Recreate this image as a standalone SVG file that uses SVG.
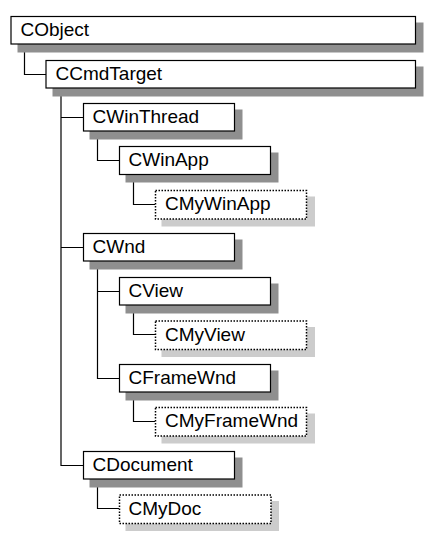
<svg xmlns="http://www.w3.org/2000/svg" width="445" height="555" viewBox="0 0 445 555">
<style>
.sh{fill:#8f8f8f}
.shl{fill:#cccccc}
.b{fill:#fff;stroke:#000;stroke-width:1.2}
.d{fill:#fff;stroke:#000;stroke-width:1.5;stroke-dasharray:1.5 1.5}
.t{font-family:"Liberation Sans",Arial,sans-serif;font-size:19px;fill:#000}
.c{fill:none;stroke:#000;stroke-width:1.2}
</style>
<rect width="445" height="555" fill="#fff"/>
<g id="connectors">
<path class="c" d="M24.5 44V74.5H46"/>
<path class="c" d="M61 88V465.5H83M61 117.5H83M61 247.5H83"/>
<path class="c" d="M97.5 131V160.5H119"/>
<path class="c" d="M133.5 174V204.5H155"/>
<path class="c" d="M97.5 261V378.5H119M97.5 291.5H119"/>
<path class="c" d="M133.5 305V334.5H155"/>
<path class="c" d="M133.5 392V421.5H155"/>
<path class="c" d="M97.5 479V508.5H119"/>
</g>
<g id="CObject"><rect class="sh" x="17.5" y="22.5" width="406" height="30"/><rect class="b" x="11" y="16.5" width="404.5" height="27.5"/><text class="t" x="20.5" y="35.5">CObject</text></g>
<g id="CCmdTarget"><rect class="sh" x="52.5" y="66.5" width="371" height="30"/><rect class="b" x="46" y="60.5" width="369.5" height="27.5"/><text class="t" x="55.5" y="79.5">CCmdTarget</text></g>
<g id="CWinThread"><rect class="sh" x="89.5" y="109.5" width="153" height="30"/><rect class="b" x="83.5" y="103.5" width="151" height="27.5"/><text class="t" x="92.5" y="122.5">CWinThread</text></g>
<g id="CWinApp"><rect class="sh" x="125.5" y="152.5" width="153" height="30"/><rect class="b" x="119.5" y="146.5" width="151" height="28"/><text class="t" x="128.5" y="166">CWinApp</text></g>
<g id="CMyWinApp"><rect class="shl" x="161.5" y="196.5" width="153.5" height="30"/><rect class="d" x="155.5" y="190.5" width="151" height="28.5"/><text class="t" x="165" y="210">CMyWinApp</text></g>
<g id="CWnd"><rect class="sh" x="89.5" y="239.5" width="153" height="30"/><rect class="b" x="83.5" y="233.5" width="151" height="27.5"/><text class="t" x="92.5" y="252.5">CWnd</text></g>
<g id="CView"><rect class="sh" x="125.5" y="283.5" width="153" height="30"/><rect class="b" x="119.5" y="277.5" width="151" height="27.5"/><text class="t" x="128.5" y="297">CView</text></g>
<g id="CMyView"><rect class="shl" x="161.5" y="327" width="153.5" height="30"/><rect class="d" x="155.5" y="321" width="151" height="28.5"/><text class="t" x="165" y="340.5">CMyView</text></g>
<g id="CFrameWnd"><rect class="sh" x="125.5" y="370.5" width="153" height="30"/><rect class="b" x="119.5" y="364.5" width="151" height="27.5"/><text class="t" x="128.5" y="384">CFrameWnd</text></g>
<g id="CMyFrameWnd"><rect class="shl" x="161.5" y="413.5" width="153.5" height="30"/><rect class="d" x="155.5" y="407.5" width="151" height="28.5"/><text class="t" x="165" y="427">CMyFrameWnd</text></g>
<g id="CDocument"><rect class="sh" x="89.5" y="457.5" width="153" height="30"/><rect class="b" x="83.5" y="451.5" width="151" height="27.5"/><text class="t" x="92.5" y="471">CDocument</text></g>
<g id="CMyDoc"><rect class="shl" x="125.5" y="501" width="153.5" height="30"/><rect class="d" x="119.5" y="495" width="151.5" height="28.5"/><text class="t" x="128.5" y="514.5">CMyDoc</text></g>
</svg>
